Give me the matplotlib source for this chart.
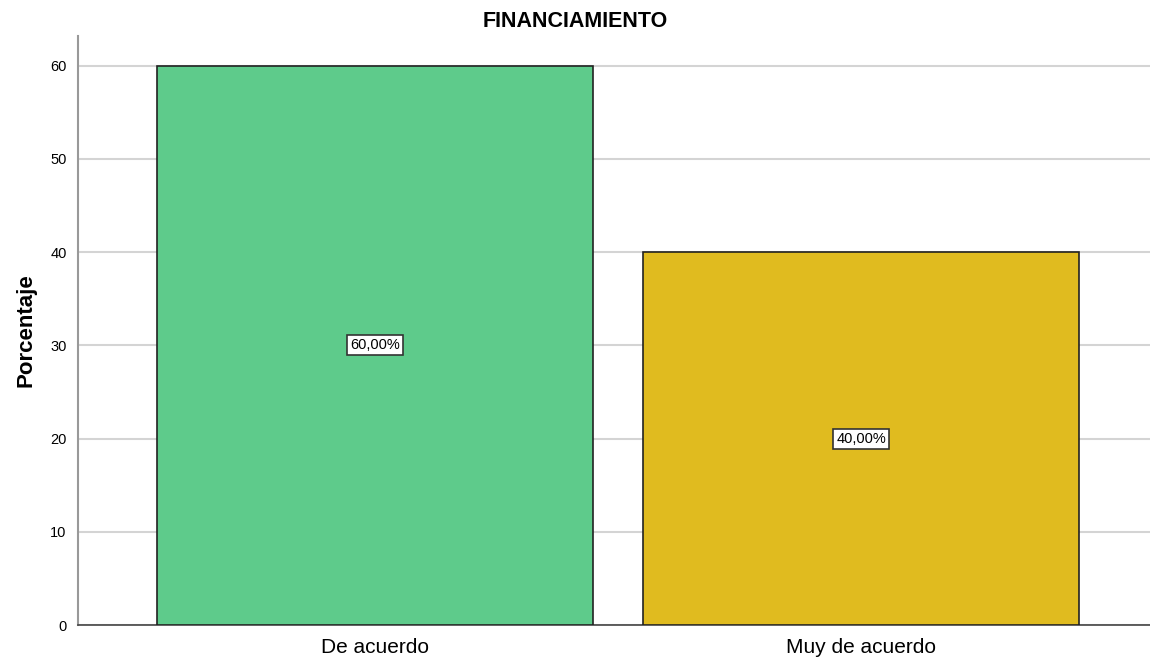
import matplotlib
matplotlib.use("Agg")
import matplotlib.pyplot as plt

categories = ["De acuerdo", "Muy de acuerdo"]
values = [60.0, 40.0]
labels = ["60,00%", "40,00%"]
colors = ["#5ECB8B", "#E0BB1F"]
yticks = [0, 10, 20, 30, 40, 50, 60]

plt.rcParams['font.family'] = ['Liberation Sans', 'DejaVu Sans']
fig = plt.figure(figsize=(11.5, 6.6), dpi=100)
ax = fig.add_axes([0.0675, 0.053, 0.9325, 0.8925])

x = list(range(len(categories)))
ax.bar(x, values, width=0.898, color=colors, edgecolor="#222222", linewidth=1.2, zorder=3)
for xi, v, lab in zip(x, values, labels):
    ax.text(xi, v / 2, lab, ha="center", va="center", fontsize=10.5, zorder=4,
            bbox=dict(boxstyle="square,pad=0.2", facecolor="white", edgecolor="#333333", linewidth=1.2))

ax.set_xlim(-0.6115, 1.594)
ax.set_ylim(0, 63.2)
ax.set_yticks(yticks)
ax.set_yticklabels([str(t) for t in yticks], fontsize=10.5)
ax.set_xticks(x)
ax.set_xticklabels(categories, fontsize=15)
ax.tick_params(axis="y", length=0, pad=8)
ax.tick_params(axis="x", length=0, pad=9.5)
ax.yaxis.grid(True, color="#d4d4d4", linewidth=1.5, zorder=0)
ax.set_axisbelow(True)
for s in ["top", "right"]:
    ax.spines[s].set_visible(False)
ax.spines["left"].set_color("#999999")
ax.spines["left"].set_linewidth(1.5)
ax.spines["bottom"].set_color("#444444")
ax.spines["bottom"].set_linewidth(1.2)
ax.set_ylabel("Porcentaje", fontsize=16, fontweight="bold", labelpad=10)
fig.text(0.5, 0.968, "FINANCIAMIENTO", ha="center", va="center", fontsize=15.5, fontweight="bold")

fig.savefig("out.png", dpi=100)
